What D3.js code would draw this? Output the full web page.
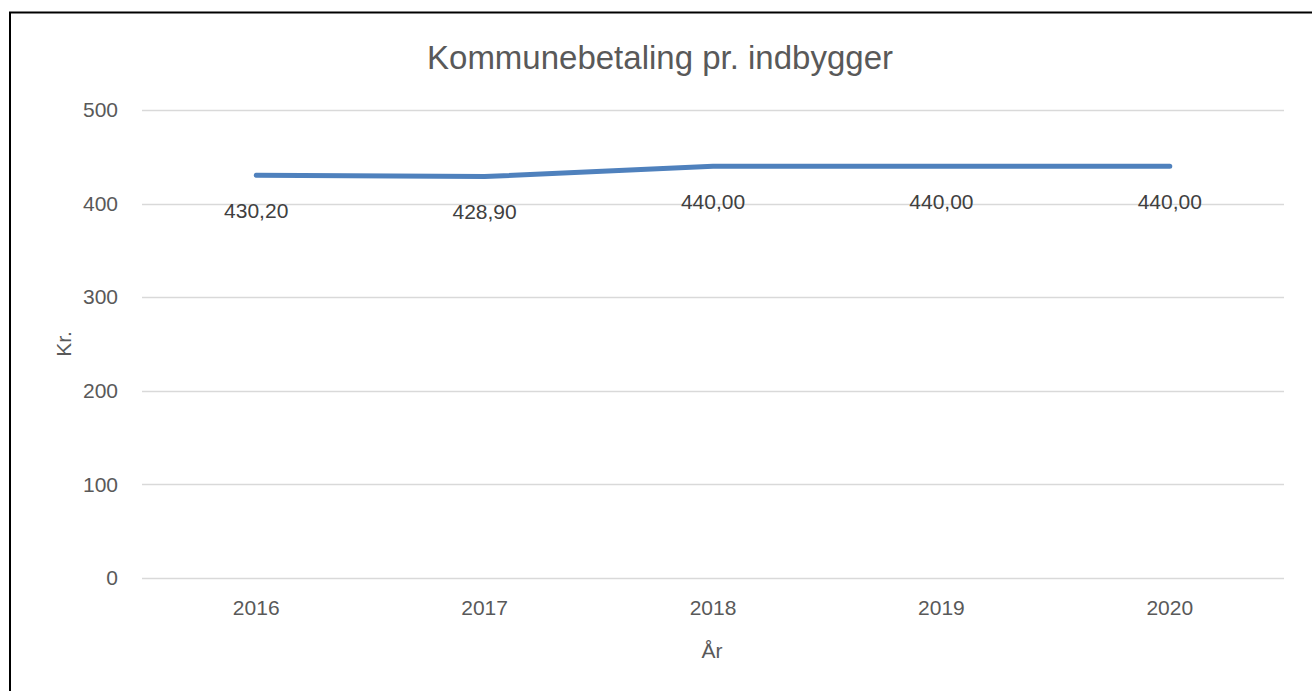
<!DOCTYPE html>
<html>
<head>
<meta charset="utf-8">
<script src="https://cdn.jsdelivr.net/npm/d3@7"></script>
<style>
  html, body { margin: 0; padding: 0; background: #fff; }
  svg { display: block; }
  text { font-family: "Liberation Sans", Arial, sans-serif; fill: #595959; }
</style>
</head>
<body>
<script>
const categories = ["2016", "2017", "2018", "2019", "2020"];
const values = [430.20, 428.90, 440.00, 440.00, 440.00];
const valueLabels = ["430,20", "428,90", "440,00", "440,00", "440,00"];
const yTicks = [0, 100, 200, 300, 400, 500];
const title = "Kommunebetaling pr. indbygger";
const xTitle = "År";
const yTitle = "Kr.";

const W = 1312, H = 691;
const svg = d3.select("body").append("svg").attr("width", W).attr("height", H);

// outer frame (left + top visible)
svg.append("rect").attr("x", 10).attr("y", 12.5).attr("width", W + 10).attr("height", H + 10)
  .attr("fill", "none").attr("stroke", "#000").attr("stroke-width", 2);

const plot = { left: 142, right: 1284, top: 110, bottom: 578 };
const fs = 21;

const x = d3.scaleBand().domain(categories).range([plot.left, plot.right]).padding(0);
const y = d3.scaleLinear().domain([0, 500]).range([plot.bottom, plot.top]);

// gridlines
svg.append("g").selectAll("line").data(yTicks).join("line")
  .attr("x1", plot.left).attr("x2", plot.right)
  .attr("y1", d => Math.round(y(d)) + 0.5).attr("y2", d => Math.round(y(d)) + 0.5)
  .attr("stroke", "#d9d9d9").attr("stroke-width", 1.5);

// y axis labels
const yAxis = d3.axisLeft(y).tickValues(yTicks).tickSize(0).tickPadding(24);
const gy = svg.append("g").attr("transform", `translate(${plot.left},0)`).call(yAxis);
gy.select(".domain").remove();
gy.selectAll("text").attr("font-size", fs).style("fill", "#595959")
  .attr("font-family", '"Liberation Sans", Arial, sans-serif');

// x axis labels
const xAxis = d3.axisBottom(x).tickSize(0).tickPadding(22);
const gx = svg.append("g").attr("transform", `translate(0,${plot.bottom})`).call(xAxis);
gx.select(".domain").remove();
gx.selectAll("text").attr("font-size", fs).style("fill", "#595959")
  .attr("font-family", '"Liberation Sans", Arial, sans-serif');

// line
const line = d3.line().x((d, i) => x(categories[i]) + x.bandwidth() / 2).y(d => y(d));
svg.append("path").datum(values).attr("d", line)
  .attr("fill", "none").attr("stroke", "#4f81bd").attr("stroke-width", 5)
  .attr("stroke-linecap", "round").attr("stroke-linejoin", "round");

// data labels
svg.append("g").selectAll("text").data(values).join("text")
  .attr("x", (d, i) => x(categories[i]) + x.bandwidth() / 2)
  .attr("y", d => y(d) + 35)
  .attr("text-anchor", "middle").attr("dominant-baseline", "central")
  .attr("font-size", fs).style("fill", "#404040")
  .text((d, i) => valueLabels[i]);

// title
svg.append("text").attr("x", 660).attr("y", 57).attr("text-anchor", "middle")
  .attr("dominant-baseline", "central").attr("font-size", 33).text(title);

// axis titles
svg.append("text").attr("x", 712).attr("y", 650).attr("text-anchor", "middle")
  .attr("dominant-baseline", "central").attr("font-size", fs).text(xTitle);
svg.append("text").attr("transform", "translate(63,344) rotate(-90)").attr("text-anchor", "middle")
  .attr("dominant-baseline", "central").attr("font-size", fs).text(yTitle);
</script>
</body>
</html>
